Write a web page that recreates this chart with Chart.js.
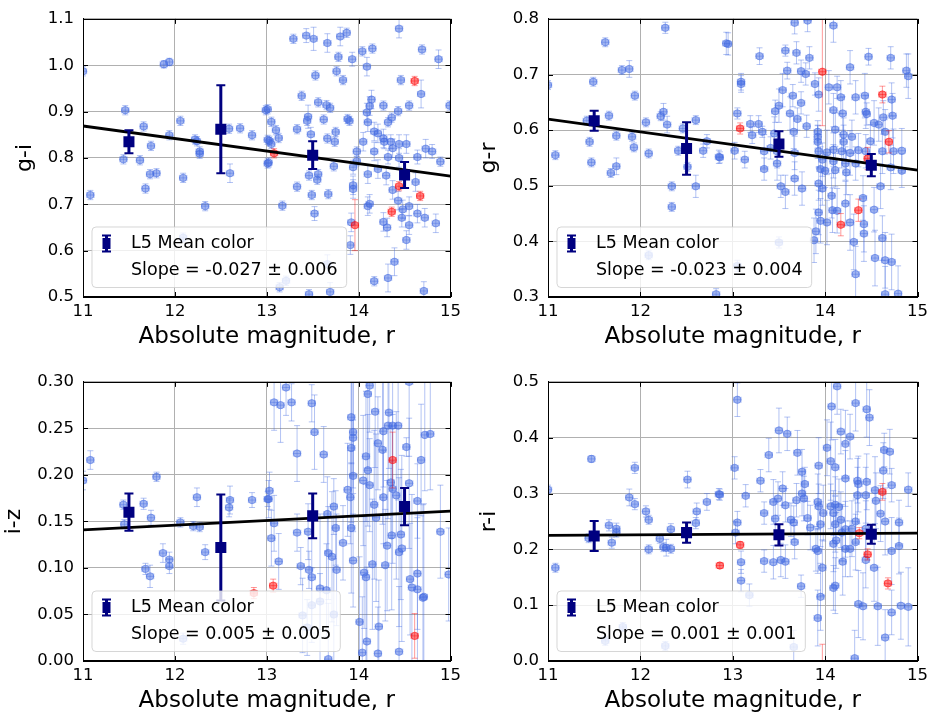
<!DOCTYPE html>
<html>
<head>
<meta charset="utf-8">
<script src="https://cdn.jsdelivr.net/npm/chart.js@4/dist/chart.umd.min.js"></script>
<style>
  html, body { margin: 0; padding: 0; background: #fff; overflow: hidden; }
  canvas { position: absolute; }
</style>
</head>
<body>
<canvas id="c0" width="466" height="355" style="left:0;top:0"></canvas>
<canvas id="c1" width="468" height="355" style="left:465px;top:0"></canvas>
<canvas id="c2" width="466" height="355" style="left:0;top:363px"></canvas>
<canvas id="c3" width="468" height="355" style="left:465px;top:363px"></canvas>
<script>
// ---- data: [magnitude, colour, error] ----
const xTicks = [11, 12, 13, 14, 15];
const magErr = 0.04;
const meanMag = [11.5, 12.5, 13.5, 14.5];

const giBlue = [
  [11.0,0.987,0.01],[11.88,1.002,0.008],[11.94,1.007,0.008],[11.46,0.903,0.01],[11.66,0.868,0.01],
  [12.06,0.880,0.01],[11.94,0.849,0.01],[12.22,0.840,0.01],[12.24,0.836,0.01],[11.74,0.826,0.01],
  [12.27,0.814,0.01],[12.27,0.809,0.01],[11.44,0.797,0.01],[11.62,0.795,0.01],[11.73,0.765,0.01],
  [11.80,0.767,0.01],[12.09,0.757,0.01],[12.60,0.767,0.02],[11.68,0.734,0.01],[11.08,0.720,0.01],
  [12.33,0.696,0.01],[12.09,0.628,0.01],[12.59,0.863,0.01],[12.71,0.864,0.01],[12.84,0.849,0.01],
  [12.99,0.903,0.01],[13.01,0.839,0.01],[13.01,0.788,0.01],
  [13.29,1.057,0.01],[13.43,1.064,0.015],[13.51,1.057,0.025],[13.66,1.048,0.02],[13.80,1.062,0.02],
  [13.87,1.070,0.01],[14.44,1.079,0.02],[14.69,1.034,0.01],[14.87,1.013,0.02],[14.04,1.030,0.01],
  [14.15,1.036,0.01],[13.78,1.018,0.01],[13.93,1.013,0.015],[14.09,0.997,0.02],[13.53,0.978,0.01],
  [13.76,0.987,0.01],[13.83,0.968,0.01],[14.46,0.968,0.01],[14.68,0.938,0.03],[13.38,0.934,0.01],
  [13.56,0.920,0.01],[13.65,0.914,0.01],[13.69,0.908,0.01],[14.14,0.926,0.02],[14.12,0.912,0.02],
  [14.09,0.898,0.02],[14.27,0.913,0.01],[14.55,0.913,0.01],[14.99,0.913,0.01],[13.01,0.905,0.01],
  [13.05,0.878,0.01],[13.45,0.889,0.025],[13.44,0.880,0.01],[13.62,0.883,0.01],[13.88,0.884,0.01],
  [13.90,0.880,0.01],[14.10,0.877,0.02],[14.32,0.877,0.01],[14.36,0.887,0.01],[14.43,0.901,0.01],
  [13.33,0.862,0.01],[13.48,0.851,0.015],[13.75,0.856,0.01],[13.66,0.842,0.01],[13.10,0.860,0.01],
  [13.13,0.843,0.01],[13.03,0.837,0.01],[13.05,0.830,0.01],[13.74,0.835,0.01],[14.05,0.835,0.02],
  [13.98,0.814,0.01],[14.17,0.857,0.02],[14.21,0.853,0.02],[14.27,0.842,0.02],[14.35,0.835,0.015],
  [14.28,0.835,0.015],[14.17,0.814,0.02],[14.37,0.821,0.02],[14.44,0.830,0.02],[14.52,0.830,0.02],
  [14.32,0.802,0.015],[14.44,0.800,0.02],[14.64,0.802,0.015],[14.73,0.820,0.02],[14.80,0.814,0.015],
  [14.89,0.792,0.01],[13.02,0.790,0.01],[13.73,0.782,0.01],[13.94,0.780,0.015],[13.98,0.793,0.01],
  [14.10,0.765,0.02],[14.21,0.776,0.02],[14.30,0.762,0.02],[13.46,0.762,0.01],[13.56,0.765,0.01],
  [13.55,0.753,0.01],[13.33,0.738,0.01],[13.94,0.741,0.02],[13.94,0.733,0.02],[14.37,0.731,0.02],
  [14.62,0.748,0.02],[13.49,0.720,0.01],[13.67,0.722,0.01],[13.17,0.697,0.01],[14.10,0.696,0.02],
  [14.12,0.701,0.02],[14.43,0.708,0.02],[14.55,0.696,0.02],[14.48,0.689,0.02],[13.52,0.680,0.015],
  [14.64,0.680,0.02],[14.72,0.671,0.02],[14.47,0.671,0.02],[14.27,0.662,0.02],[14.31,0.650,0.02],
  [14.55,0.655,0.02],[14.84,0.659,0.02],[13.92,0.661,0.02],[13.91,0.612,0.02],[14.52,0.623,0.02],
  [14.39,0.576,0.03],[14.32,0.541,0.03],[14.17,0.534,0.01],[14.71,0.513,0.02],[13.69,0.511,0.02],
  [13.46,0.506,0.01],[13.14,0.521,0.01],[13.21,0.535,0.01],[13.66,0.571,0.02]
];
const giRed = [
  [14.61,0.966,0.01],[13.08,0.810,0.01],[14.44,0.739,0.01],[14.67,0.718,0.01],[14.36,0.684,0.01],
  [13.96,0.655,0.055]
];
const giMean = [0.835, 0.862, 0.806, 0.763];
const giMeanErr = [0.025, 0.095, 0.030, 0.028];
const giFit = [0.869, -0.027, 0.006];   // value at r=11, slope, slope error

const grBlue = [
  [12.27,0.784,0.01],[11.62,0.758,0.008],[11.80,0.708,0.008],[11.88,0.710,0.015],[11.00,0.681,0.008],
  [11.49,0.687,0.008],[11.94,0.662,0.008],[12.25,0.633,0.015],[12.22,0.625,0.008],[11.66,0.626,0.008],
  [11.42,0.617,0.008],[12.06,0.614,0.008],[12.29,0.610,0.015],[12.60,0.618,0.008],[12.46,0.603,0.008],
  [11.74,0.590,0.008],[11.91,0.588,0.008],[11.45,0.579,0.008],[12.72,0.580,0.012],[11.93,0.569,0.008],
  [12.41,0.563,0.008],[12.68,0.563,0.012],[11.08,0.555,0.008],[12.09,0.558,0.008],[12.85,0.552,0.012],
  [11.47,0.542,0.008],[11.74,0.535,0.015],[11.68,0.523,0.008],[12.51,0.534,0.008],[12.34,0.499,0.008],
  [12.60,0.499,0.02],[12.34,0.462,0.008],[12.09,0.375,0.008],[12.82,0.305,0.01],[12.93,0.756,0.02],
  [12.95,0.755,0.02],[13.29,0.733,0.015],[13.67,0.793,0.02],[13.81,0.797,0.02],[14.09,0.788,0.03],
  [13.57,0.743,0.01],[13.69,0.739,0.02],[13.83,0.730,0.02],[14.47,0.732,0.015],[14.71,0.730,0.02],
  [13.59,0.707,0.015],[13.74,0.706,0.02],[13.79,0.701,0.02],[14.27,0.713,0.03],[14.88,0.707,0.03],
  [14.90,0.697,0.04],[13.09,0.687,0.015],[13.09,0.683,0.015],[13.89,0.683,0.02],[14.04,0.677,0.03],
  [14.13,0.677,0.02],[13.54,0.672,0.03],[13.93,0.664,0.03],[13.65,0.662,0.02],[13.74,0.649,0.02],
  [14.17,0.659,0.03],[14.33,0.659,0.03],[14.43,0.662,0.04],[14.72,0.655,0.03],[13.50,0.644,0.03],
  [13.46,0.634,0.02],[13.05,0.630,0.01],[13.62,0.630,0.03],[13.70,0.620,0.02],[14.09,0.636,0.03],
  [14.19,0.630,0.03],[14.44,0.633,0.03],[14.45,0.629,0.02],[14.63,0.623,0.03],[14.73,0.626,0.04],
  [13.19,0.611,0.015],[13.28,0.611,0.015],[13.21,0.591,0.015],[13.32,0.597,0.01],[13.45,0.594,0.03],
  [13.66,0.597,0.03],[13.80,0.607,0.02],[13.92,0.597,0.02],[13.92,0.588,0.02],[13.92,0.579,0.03],
  [14.11,0.601,0.03],[14.20,0.592,0.03],[14.29,0.588,0.03],[14.20,0.579,0.03],[14.53,0.613,0.04],
  [14.58,0.610,0.03],[14.65,0.597,0.04],[14.49,0.580,0.03],[13.02,0.563,0.015],[13.13,0.547,0.015],
  [12.86,0.551,0.01],[13.34,0.562,0.03],[13.41,0.568,0.02],[13.48,0.562,0.03],[13.67,0.559,0.03],
  [13.93,0.562,0.03],[14.02,0.560,0.04],[14.09,0.565,0.03],[14.18,0.562,0.03],[14.27,0.559,0.04],
  [14.36,0.564,0.03],[14.44,0.562,0.03],[14.62,0.562,0.04],[14.74,0.562,0.04],[14.83,0.563,0.04],
  [13.97,0.547,0.03],[14.09,0.544,0.03],[14.22,0.540,0.03],[14.33,0.540,0.03],[13.34,0.530,0.02],
  [13.48,0.540,0.03],[13.95,0.530,0.04],[14.00,0.527,0.03],[14.11,0.528,0.03],[14.23,0.524,0.04],
  [14.71,0.533,0.04],[14.83,0.527,0.03],[13.67,0.513,0.03],[13.52,0.499,0.02],[13.57,0.489,0.03],
  [13.75,0.495,0.03],[13.93,0.504,0.03],[13.97,0.495,0.03],[14.60,0.499,0.04],[14.07,0.482,0.04],
  [14.41,0.478,0.04],[14.22,0.468,0.04],[14.53,0.457,0.04],[13.93,0.452,0.04],[14.08,0.456,0.04],
  [14.13,0.455,0.04],[13.95,0.437,0.04],[14.02,0.434,0.04],[14.27,0.434,0.05],[14.42,0.431,0.05],
  [14.42,0.414,0.05],[13.90,0.418,0.04],[13.88,0.402,0.04],[14.62,0.406,0.04],[14.31,0.399,0.05],
  [14.54,0.370,0.05],[14.65,0.366,0.05],[14.72,0.363,0.05],[14.33,0.341,0.05],[14.65,0.305,0.05],
  [14.79,0.306,0.05],[13.50,0.398,0.01],[13.05,0.356,0.01]
];
const grRed = [
  [13.97,0.705,0.097],[14.62,0.664,0.015],[13.08,0.603,0.01],[14.69,0.579,0.02],[14.46,0.549,0.02],
  [14.36,0.456,0.02],[14.17,0.430,0.02]
];
const grMean = [0.617, 0.567, 0.575, 0.537];
const grMeanErr = [0.018, 0.047, 0.023, 0.020];
const grFit = [0.620, -0.023, 0.004];

const izBlue = [
  [11.08,0.216,0.01],[11.00,0.194,0.01],[11.80,0.198,0.005],[11.44,0.168,0.005],[11.45,0.147,0.005],
  [11.66,0.169,0.006],[11.74,0.154,0.008],[12.06,0.149,0.005],[12.20,0.145,0.005],[12.27,0.144,0.005],
  [12.24,0.176,0.01],[12.60,0.173,0.015],[12.59,0.165,0.01],[12.84,0.173,0.008],[13.01,0.174,0.008],
  [11.87,0.116,0.01],[11.94,0.109,0.008],[11.94,0.102,0.008],[11.68,0.099,0.006],[11.73,0.091,0.012],
  [12.33,0.117,0.008],[12.09,0.024,0.006],
  [13.21,0.294,0.03],[13.08,0.278,0.03],[13.15,0.275,0.04],[13.27,0.278,0.02],[13.49,0.277,0.02],
  [13.52,0.246,0.04],[13.33,0.223,0.03],[13.62,0.222,0.03],[13.92,0.262,0.05],[13.94,0.246,0.06],
  [13.94,0.240,0.06],[13.92,0.229,0.08],[14.12,0.296,0.05],[14.10,0.287,0.08],[14.18,0.268,0.06],
  [14.33,0.267,0.06],[14.32,0.253,0.1],[14.37,0.253,0.07],[14.43,0.253,0.08],[14.27,0.247,0.06],
  [14.21,0.234,0.05],[14.26,0.227,0.08],[14.08,0.220,0.07],[14.10,0.205,0.06],[14.52,0.230,0.01],
  [14.68,0.216,0.06],[14.72,0.243,0.06],[14.78,0.244,0.06],[14.55,0.300,0.08],[13.94,0.199,0.06],
  [13.88,0.184,0.05],[13.91,0.176,0.05],[14.05,0.194,0.07],[14.12,0.189,0.05],[14.17,0.168,0.08],
  [14.35,0.192,0.06],[14.37,0.185,0.08],[14.41,0.178,0.09],[14.55,0.191,0.07],[14.64,0.172,0.04],
  [14.27,0.176,0.05],[13.03,0.183,0.02],[13.02,0.174,0.02],[13.73,0.166,0.03],[13.66,0.158,0.04],
  [14.19,0.154,0.09],[13.08,0.148,0.03],[13.05,0.132,0.03],[13.33,0.138,0.02],[13.45,0.139,0.03],
  [13.75,0.143,0.04],[13.92,0.143,0.07],[13.83,0.127,0.04],[14.36,0.135,0.08],[14.31,0.124,0.07],
  [14.46,0.136,0.07],[14.47,0.121,0.1],[14.44,0.117,0.08],[14.89,0.139,0.05],[13.67,0.116,0.05],
  [13.71,0.112,0.07],[13.94,0.108,0.05],[14.15,0.104,0.07],[14.29,0.103,0.06],[13.37,0.102,0.02],
  [13.13,0.107,0.03],[13.76,0.098,0.06],[13.46,0.098,0.02],[13.49,0.090,0.06],[14.06,0.095,0.06],
  [14.08,0.090,0.1],[14.64,0.094,0.06],[14.56,0.088,0.06],[14.58,0.079,0.1],[14.64,0.077,0.08],
  [14.71,0.069,0.1],[14.70,0.068,0.1],[14.98,0.093,0.05],[13.58,0.078,0.08],[13.65,0.076,0.05],
  [13.73,0.050,0.06],[14.01,0.042,0.07],[14.22,0.037,0.05],[14.09,0.021,0.08],[14.44,0.010,0.07],
  [14.04,0.009,0.06],[14.21,0.008,0.05],[13.67,0.002,0.06],[13.49,0.060,0.04],[13.58,0.064,0.03],
  [13.39,0.049,0.04],[13.44,0.036,0.03]
];
const izRed = [
  [12.86,0.073,0.006],[14.37,0.216,0.03],[13.07,0.081,0.007],[14.61,0.027,0.024]
];
const izMean = [0.160, 0.122, 0.156, 0.166];
const izMeanErr = [0.020, 0.057, 0.024, 0.020];
const izFit = [0.141, 0.005, 0.005];

const riBlue = [
  [11.00,0.307,0.008],[11.08,0.167,0.008],[11.47,0.362,0.006],[11.94,0.346,0.01],[11.88,0.293,0.015],
  [11.94,0.281,0.01],[12.06,0.268,0.01],[12.09,0.253,0.008],[11.66,0.243,0.01],[11.74,0.237,0.01],
  [11.74,0.230,0.008],[11.44,0.220,0.008],[11.69,0.212,0.01],[12.09,0.200,0.008],[12.21,0.219,0.008],
  [12.25,0.204,0.008],[12.28,0.203,0.015],[12.33,0.201,0.008],[12.33,0.236,0.01],[12.51,0.325,0.015],
  [12.60,0.247,0.01],[12.61,0.268,0.015],[12.72,0.285,0.015],[12.85,0.299,0.01],[11.81,0.061,0.008],
  [11.62,0.036,0.008],[12.27,0.027,0.008],
  [13.05,0.468,0.03],[14.13,0.492,0.05],[14.07,0.456,0.06],[14.33,0.462,0.05],[14.45,0.451,0.05],
  [14.48,0.436,0.05],[13.50,0.413,0.04],[13.59,0.407,0.03],[14.17,0.411,0.04],[14.27,0.402,0.04],
  [14.22,0.389,0.06],[13.39,0.369,0.03],[13.70,0.373,0.04],[14.02,0.382,0.05],[14.06,0.358,0.07],
  [14.11,0.347,0.05],[13.93,0.350,0.05],[14.64,0.378,0.03],[14.70,0.375,0.04],[14.63,0.341,0.05],
  [13.02,0.346,0.02],[13.75,0.339,0.04],[13.30,0.323,0.02],[13.78,0.317,0.03],[14.22,0.327,0.05],
  [14.35,0.323,0.04],[14.45,0.321,0.05],[14.36,0.317,0.05],[14.72,0.315,0.03],[14.90,0.307,0.03],
  [13.14,0.296,0.02],[13.54,0.309,0.03],[13.49,0.291,0.03],[13.44,0.285,0.04],[13.57,0.279,0.03],
  [13.69,0.288,0.03],[13.75,0.300,0.04],[13.77,0.291,0.04],[13.92,0.285,0.05],[13.93,0.277,0.04],
  [13.98,0.265,0.05],[14.06,0.277,0.04],[14.11,0.280,0.05],[14.09,0.265,0.04],[14.15,0.276,0.05],
  [14.35,0.297,0.05],[14.44,0.297,0.05],[14.54,0.306,0.06],[14.55,0.287,0.05],[14.60,0.264,0.05],
  [14.65,0.250,0.06],[14.80,0.248,0.04],[12.86,0.298,0.01],[13.34,0.265,0.02],[13.05,0.248,0.02],
  [13.03,0.230,0.02],[13.46,0.255,0.03],[13.63,0.253,0.03],[13.66,0.248,0.03],[13.81,0.256,0.03],
  [13.84,0.239,0.04],[13.95,0.245,0.04],[14.11,0.245,0.05],[14.17,0.253,0.05],[14.22,0.236,0.05],
  [14.18,0.230,0.05],[14.33,0.250,0.04],[14.29,0.237,0.05],[14.44,0.237,0.05],[13.67,0.213,0.03],
  [13.90,0.201,0.04],[13.92,0.197,0.04],[14.09,0.210,0.05],[14.12,0.216,0.05],[14.22,0.201,0.05],
  [14.27,0.201,0.05],[14.33,0.213,0.05],[14.72,0.197,0.06],[14.80,0.206,0.05],[13.09,0.177,0.02],
  [13.09,0.144,0.02],[13.34,0.179,0.02],[13.44,0.177,0.03],[13.52,0.181,0.03],[13.57,0.178,0.03],
  [14.19,0.178,0.06],[14.44,0.181,0.05],[14.53,0.167,0.06],[13.97,0.167,0.05],[13.74,0.134,0.02],
  [14.11,0.135,0.05],[14.09,0.131,0.04],[13.95,0.115,0.06],[14.36,0.102,0.06],[14.41,0.098,0.06],
  [14.57,0.098,0.07],[14.82,0.099,0.06],[14.90,0.097,0.07],[14.72,0.087,0.04],[13.92,0.077,0.05],
  [14.65,0.042,0.05],[14.32,0.005,0.05],[13.66,0.025,0.03],[13.18,0.118,0.02]
];
const riRed = [
  [12.86,0.171,0.005],[14.62,0.303,0.015],[13.08,0.208,0.006],[14.37,0.229,0.01],[14.46,0.191,0.01],
  [14.68,0.139,0.01],[13.97,-0.010,0.04]
];
const riMean = [0.224, 0.230, 0.226, 0.227];
const riMeanErr = [0.027, 0.018, 0.019, 0.017];
const riFit = [0.225, 0.001, 0.001];

// y axis: [min, max, step, decimals]
const giAxis = [0.5, 1.1, 0.1, 1];
const grAxis = [0.3, 0.8, 0.1, 1];
const izAxis = [0.0, 0.3, 0.05, 2];
const riAxis = [0.0, 0.5, 0.1, 1];

const FONT = "DejaVu Sans";
Chart.defaults.font.family = FONT;
Chart.defaults.color = "#000";

const BLUE = "rgba(65,105,225,0.5)";
const BLUE_ERR = "rgba(65,105,225,0.4)";
const RED = "rgba(255,0,0,0.5)";
const RED_ERR = "rgba(255,0,0,0.4)";
const NAVY = "#000080";

function drawErr(ctx, xs, ys, x, y, ex, ey, lw, cap, capW) {
  const px = xs.getPixelForValue(x), py = ys.getPixelForValue(y);
  ctx.lineWidth = lw;
  ctx.beginPath();
  const y0 = ys.getPixelForValue(y - ey), y1 = ys.getPixelForValue(y + ey);
  ctx.moveTo(px, y0); ctx.lineTo(px, y1);
  if (ex > 0) {
    const x0 = xs.getPixelForValue(x - ex), x1 = xs.getPixelForValue(x + ex);
    ctx.moveTo(x0, py); ctx.lineTo(x1, py);
    ctx.stroke();
    ctx.lineWidth = capW;
    ctx.beginPath();
    ctx.moveTo(x0, py - cap); ctx.lineTo(x0, py + cap);
    ctx.moveTo(x1, py - cap); ctx.lineTo(x1, py + cap);
  } else {
    ctx.stroke();
    ctx.lineWidth = capW;
    ctx.beginPath();
  }
  ctx.moveTo(px - cap, y0); ctx.lineTo(px + cap, y0);
  ctx.moveTo(px - cap, y1); ctx.lineTo(px + cap, y1);
  ctx.stroke();
}

const errorBars = {
  id: "errorBars",
  beforeDatasetDraw(chart, args) {
    const ds = chart.data.datasets[args.index];
    if (!ds.errs) return;
    const ctx = chart.ctx, ca = chart.chartArea;
    const xs = chart.scales.x, ys = chart.scales.y;
    ctx.save();
    ctx.beginPath();
    ctx.rect(ca.left, ca.top, ca.right - ca.left, ca.bottom - ca.top);
    ctx.clip();
    ctx.strokeStyle = ds.errColor;
    ds.data.forEach((p, i) => {
      drawErr(ctx, xs, ys, p.x, p.y, ds.xErr, ds.errs[i], ds.errWidth, ds.capSize, ds.capWidth);
    });
    ctx.restore();
  },
  afterDatasetsDraw(chart, args, opts) {
    const ctx = chart.ctx, ca = chart.chartArea;
    const xs = chart.scales.x, ys = chart.scales.y;
    ctx.save();
    // frame
    ctx.strokeStyle = "#000";
    ctx.lineWidth = 1;
    ctx.strokeRect(Math.round(ca.left) + 0.5, Math.round(ca.top) + 0.5,
      Math.round(ca.right - ca.left) - 1, Math.round(ca.bottom - ca.top) - 1);
    // inward ticks on all sides
    ctx.beginPath();
    xs.ticks.forEach(t => {
      const px = Math.round(xs.getPixelForValue(t.value)) + 0.5;
      ctx.moveTo(px, ca.bottom); ctx.lineTo(px, ca.bottom - 5);
      ctx.moveTo(px, ca.top); ctx.lineTo(px, ca.top + 5);
    });
    ys.ticks.forEach(t => {
      const py = Math.round(ys.getPixelForValue(t.value)) + 0.5;
      ctx.moveTo(ca.left, py); ctx.lineTo(ca.left + 5, py);
      ctx.moveTo(ca.right, py); ctx.lineTo(ca.right - 5, py);
    });
    ctx.stroke();

    // legend
    const line1 = "L5 Mean color";
    const line2 = opts.slopeText;
    ctx.font = "17.5px '" + FONT + "'";
    const tw = Math.max(ctx.measureText(line1).width, ctx.measureText(line2).width);
    const bx = ca.left + 9, bh = 60.5, by = ca.bottom - 9.5 - bh;
    const bw = 39 + tw + 9;
    ctx.beginPath();
    ctx.roundRect(bx, by, bw, bh, 4);
    ctx.fillStyle = "rgba(255,255,255,0.8)";
    ctx.fill();
    ctx.strokeStyle = "rgba(204,204,204,0.8)";
    ctx.lineWidth = 1;
    ctx.stroke();
    // marker
    const mx = bx + 14.5, my = by + 16.5;
    ctx.strokeStyle = NAVY;
    ctx.fillStyle = NAVY;
    ctx.lineWidth = 3;
    ctx.beginPath(); ctx.moveTo(mx, my - 8); ctx.lineTo(mx, my + 8); ctx.stroke();
    ctx.lineWidth = 2;
    ctx.beginPath();
    ctx.moveTo(mx - 4.5, my - 8); ctx.lineTo(mx + 4.5, my - 8);
    ctx.moveTo(mx - 4.5, my + 8); ctx.lineTo(mx + 4.5, my + 8);
    ctx.stroke();
    ctx.fillRect(mx - 4, my - 5.5, 8, 11);
    // text
    ctx.fillStyle = "#000";
    ctx.textBaseline = "middle";
    ctx.textAlign = "left";
    ctx.fillText(line1, bx + 39, by + 16.5);
    ctx.fillText(line2, bx + 39, by + 43);
    ctx.restore();
  }
};

function rows(list) {
  return list.map(r => ({ x: r[0], y: r[1] }));
}

function makePanel(id, label, blue, red, mean, meanErr, fit, axis, opt) {
  const [yMin, yMax, yStep, dec] = axis;
  const slopeText = "Slope = " + fit[1].toFixed(3) + " \u00b1 " + fit[2].toFixed(3);
  new Chart(document.getElementById(id), {
    type: "scatter",
    data: {
      datasets: [
        {
          data: rows(blue), errs: blue.map(r => r[2]), xErr: magErr,
          errColor: BLUE_ERR, errWidth: 1, capSize: 3, capWidth: 1,
          backgroundColor: BLUE, borderColor: BLUE, borderWidth: 1, pointRadius: 3.7,
          order: 4, clip: 0
        },
        {
          data: rows(red), errs: red.map(r => r[2]), xErr: magErr,
          errColor: RED_ERR, errWidth: 1, capSize: 3, capWidth: 1,
          backgroundColor: RED, borderColor: RED, borderWidth: 1, pointRadius: 3.7,
          order: 3, clip: 0
        },
        {
          data: xTicks.filter((v, i) => i === 0 || i === xTicks.length - 1)
            .map(v => ({ x: v, y: fit[0] + fit[1] * (v - xTicks[0]) })),
          showLine: true, borderColor: "#000", borderWidth: 2.8, pointRadius: 0,
          order: 2, clip: 0
        },
        {
          data: meanMag.map((m, i) => ({ x: m, y: mean[i] })), errs: meanErr, xErr: 0,
          errColor: NAVY, errWidth: 3, capSize: 4.5, capWidth: 2,
          pointStyle: "rect", pointRadius: 7.8, backgroundColor: NAVY, borderWidth: 0,
          order: 1, clip: 0
        }
      ]
    },
    options: {
      responsive: false,
      animation: false,
      events: [],
      layout: { padding: { top: 10, right: opt.right, left: 0, bottom: 0 } },
      plugins: {
        legend: { display: false },
        tooltip: { enabled: false },
        errorBars: { slopeText: slopeText }
      },
      scales: {
        x: {
          type: "linear", min: xTicks[0], max: xTicks[xTicks.length - 1],
          afterBuildTicks: s => { s.ticks = xTicks.map(v => ({ value: v })); },
          afterFit: s => { s.height = opt.xh; },
          grid: { color: "#b0b0b0", lineWidth: 1, drawTicks: false },
          border: { color: "#000", width: 1 },
          ticks: { padding: 5, font: { size: 16.5 }, callback: v => String(v) },
          title: {
            display: true, text: "Absolute magnitude, r",
            font: { size: 23 }, padding: { top: 0, bottom: opt.xtp }
          }
        },
        y: {
          type: "linear", min: yMin, max: yMax,
          ticks: { stepSize: yStep, padding: 9, font: { size: 16.5 }, callback: v => v.toFixed(dec) },
          afterFit: s => { s.width = 83; },
          grid: { color: "#b0b0b0", lineWidth: 1, drawTicks: false },
          border: { color: "#000", width: 1 },
          title: {
            display: true, text: label,
            font: { size: 22 }, padding: { top: opt.ytp, bottom: 0 }
          }
        }
      }
    },
    plugins: [errorBars]
  });
}

makePanel("c0", "g-i", giBlue, giRed, giMean, giMeanErr, giFit, giAxis, { right: 11, xh: 58, xtp: 4, ytp: 12 });
makePanel("c1", "g-r", grBlue, grRed, grMean, grMeanErr, grFit, grAxis, { right: 14, xh: 58, xtp: 4, ytp: 11 });
makePanel("c2", "i-z", izBlue, izRed, izMean, izMeanErr, izFit, izAxis, { right: 11, xh: 57, xtp: 3, ytp: 1.5 });
makePanel("c3", "r-i", riBlue, riRed, riMean, riMeanErr, riFit, riAxis, { right: 14, xh: 57, xtp: 3, ytp: 11 });
</script>
</body>
</html>
